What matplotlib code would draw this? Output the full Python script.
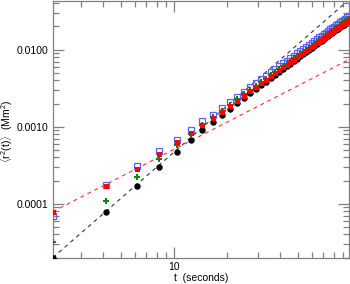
import numpy as np
import matplotlib
matplotlib.use("Agg")
import matplotlib.pyplot as plt
from matplotlib.ticker import LogLocator, NullFormatter, FixedLocator, FuncFormatter

plt.rcParams['font.family'] = ['Liberation Sans', 'DejaVu Sans']
plt.rcParams['mathtext.fontset'] = 'custom'
plt.rcParams['mathtext.rm'] = 'Liberation Sans'
plt.rcParams['mathtext.it'] = 'Liberation Sans'

# time (seconds), cadence ~2.07 s
t = [2.07, 4.14, 6.21, 8.28, 10.35, 12.42, 14.49, 16.56, 18.63, 20.70,
     22.77, 24.84, 26.91, 28.98, 31.05, 33.12, 35.19, 37.26, 39.33, 41.40,
     43.47, 45.54, 47.61, 49.68, 51.75, 53.82, 55.89, 57.96, 60.03, 62.10,
     64.17, 66.24, 68.31, 70.38, 72.45, 74.52, 76.59, 78.66, 80.73, 82.80,
     84.87, 86.94, 89.01, 91.08, 93.15, 95.22, 97.29]

# <r^2(t)> (Mm^2)
msd_black = [2.0e-5, 7.7e-5, 1.71e-4, 3.03e-4, 4.76e-4, 6.76e-4, 9.1e-4, 1.16e-3, 1.43e-3, 1.72e-3,
             2.03e-3, 2.35e-3, 2.70e-3, 3.06e-3, 3.44e-3, 3.84e-3, 4.25e-3, 4.69e-3, 5.14e-3, 5.59e-3,
             6.07e-3, 6.58e-3, 7.09e-3, 7.62e-3, 8.17e-3, 8.73e-3, 9.32e-3, 9.91e-3, 0.01053, 0.01115,
             0.01180, 0.01244, 0.01311, 0.01378, 0.01447, 0.01518, 0.01589, 0.01659, 0.01733, 0.01806,
             0.01882, 0.01957, 0.02034, 0.02114, 0.02193, 0.02275, 0.02357]
msd_green = [3.14e-5, 1.07e-4, 2.25e-4, 3.8e-4, 5.79e-4, 7.94e-4, 1.05e-3, 1.33e-3, 1.62e-3, 1.93e-3,
             2.27e-3, 2.62e-3, 3.00e-3, 3.39e-3, 3.80e-3, 4.22e-3, 4.67e-3, 5.14e-3, 5.62e-3, 6.10e-3,
             6.61e-3, 7.14e-3, 7.69e-3, 8.25e-3, 8.83e-3, 9.41e-3, 0.01003, 0.01064, 0.01127, 0.01192,
             0.01258, 0.01326, 0.01396, 0.01465, 0.01537, 0.01611, 0.01686, 0.01761, 0.01839, 0.01917,
             0.01997, 0.02077, 0.02159, 0.02243, 0.02328, 0.02414, 0.02501]
msd_red = [7.9e-5, 1.68e-4, 2.80e-4, 4.45e-4, 6.25e-4, 8.25e-4, 1.05e-3, 1.30e-3, 1.57e-3, 1.86e-3,
           2.18e-3, 2.52e-3, 2.88e-3, 3.26e-3, 3.65e-3, 4.06e-3, 4.49e-3, 4.94e-3, 5.40e-3, 5.87e-3,
           6.36e-3, 6.87e-3, 7.39e-3, 7.93e-3, 8.49e-3, 9.05e-3, 9.64e-3, 0.01023, 0.01084, 0.01146,
           0.01210, 0.01275, 0.01342, 0.01409, 0.01478, 0.01549, 0.01621, 0.01693, 0.01768, 0.01843,
           0.01920, 0.01997, 0.02076, 0.02157, 0.02238, 0.02321, 0.02405]
msd_blue = [6.98e-5, 1.75e-4, 3.09e-4, 4.8e-4, 6.7e-4, 9.1e-4, 1.18e-3, 1.44e-3, 1.74e-3, 2.08e-3,
            2.43e-3, 2.84e-3, 3.25e-3, 3.69e-3, 4.12e-3, 4.59e-3, 5.07e-3, 5.58e-3, 6.10e-3, 6.63e-3,
            7.19e-3, 7.76e-3, 8.35e-3, 8.96e-3, 9.59e-3, 0.01023, 0.01089, 0.01156, 0.01225, 0.01295,
            0.01367, 0.01441, 0.01516, 0.01592, 0.01670, 0.01750, 0.01832, 0.01913, 0.01998, 0.02083,
            0.02170, 0.02257, 0.02346, 0.02437, 0.02529, 0.02623, 0.02718]

# power-law reference lines (end points)
fit_t = [2.07, 98.0]
fit_black = [2.0e-5, 0.0448]   # ~ t^2
fit_red = [7.9e-5, 7.48e-3]    # ~ t^1.18

fig = plt.figure(figsize=(3.5, 2.84), dpi=100)
ax = fig.add_axes([0.151, 0.093, 0.847, 0.905])

ax.plot(fit_t, fit_black, color='#333333', lw=0.8, dashes=(3.5, 3.5), zorder=2)
ax.plot(fit_t, fit_red, color='#ff3030', lw=0.8, dashes=(3.5, 3.5), zorder=2)

ax.plot(t, msd_blue, ls='none', marker='s', ms=5, mfc='none', mec='#6060ff', mew=0.9, zorder=3)
ax.plot(t, msd_black, ls='none', marker='o', ms=3.6, color='black', zorder=4)
ax.plot(t, msd_green, ls='none', marker='P', ms=4, color='#128012', mew=0, zorder=5)
ax.plot(t, msd_red, ls='none', marker='s', ms=3.6, color='#ff0000', mew=0, zorder=6)

ax.set_xscale('log')
ax.set_yscale('log')
ax.set_xlim(2.07, 98)
ax.set_ylim(2.0e-5, 0.0434)

ax.xaxis.set_major_locator(FixedLocator([10]))
ax.xaxis.set_major_formatter(FuncFormatter(lambda v, p: '%d' % v))
ax.xaxis.set_minor_locator(LogLocator(base=10, subs=np.arange(2, 10)))
ax.xaxis.set_minor_formatter(NullFormatter())
ax.yaxis.set_major_locator(FixedLocator([1e-4, 1e-3, 1e-2]))
ax.yaxis.set_major_formatter(FuncFormatter(lambda v, p: '%.4f' % v))
ax.yaxis.set_minor_locator(LogLocator(base=10, subs=np.arange(2, 10)))
ax.yaxis.set_minor_formatter(NullFormatter())

ax.tick_params(which='both', direction='in', top=True, right=True,
               color='#808080', width=0.9, labelsize=7.5, pad=3)
ax.tick_params(which='major', length=8)
ax.tick_params(which='minor', length=4.5)
for s in ax.spines.values():
    s.set_color('#808080')
    s.set_linewidth(0.9)

ax.set_xlabel('t  (seconds)', fontsize=7.5, labelpad=1)
ax.set_ylabel(r'$\langle$r$^2$(t)$\rangle$  (Mm$^2$)', fontsize=7.5)
ax.yaxis.set_label_coords(-0.127, 0.49)

fig.savefig('out.png', dpi=100)
